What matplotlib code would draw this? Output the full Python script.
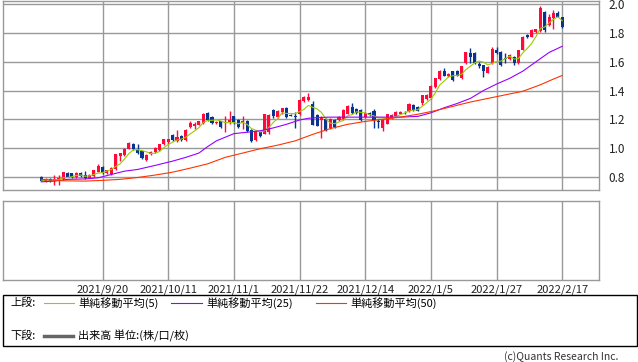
import matplotlib
matplotlib.use("Agg")
import matplotlib.pyplot as plt
from matplotlib.patches import Rectangle
from matplotlib.lines import Line2D
import numpy as np
import pandas as pd

plt.rcParams['font.family'] = ['Noto Sans CJK JP', 'DejaVu Sans']

# ---- data (daily OHLC, 120 bars) ----
opens = [.800,.765,.788,.775,.770,.785,.828,.823,.795,.825,.809,.793,.805,.835,.869,.823,.821,.851,.943,.950,
         .993,1.030,.985,.979,.917,.956,.970,.986,1.026,1.040,1.091,1.051,1.084,1.056,1.145,1.156,1.163,1.172,1.245,1.214,
         1.172,1.186,1.172,1.180,1.221,1.193,1.175,1.191,1.128,1.056,1.110,1.100,1.110,1.262,1.218,1.248,1.281,1.232,1.222,1.234,
         1.327,1.336,1.309,1.228,1.195,1.200,1.140,1.193,1.193,1.202,1.240,1.286,1.272,1.267,1.216,1.244,1.256,1.190,1.140,1.170,
         1.210,1.226,1.240,1.254,1.256,1.302,1.283,1.313,1.341,1.348,1.424,1.482,1.533,1.503,1.533,1.533,1.487,1.591,1.660,1.660,
         1.584,1.578,1.524,1.589,1.683,1.670,1.625,1.616,1.631,1.589,1.682,1.787,1.775,1.810,1.817,1.949,1.856,1.902,1.937,1.909]
highs = [.803,.790,.792,.810,.810,.835,.832,.826,.830,.830,.840,.820,.848,.890,.875,.850,.865,.958,.965,.998,
         1.040,1.035,1.030,.980,.955,.980,1.010,1.030,1.065,1.065,1.100,1.128,1.090,1.130,1.190,1.180,1.190,1.245,1.250,1.220,
         1.190,1.190,1.220,1.255,1.225,1.200,1.220,1.195,1.130,1.125,1.115,1.238,1.236,1.270,1.262,1.280,1.285,1.240,1.250,1.340,
         1.360,1.385,1.330,1.240,1.220,1.210,1.210,1.200,1.220,1.270,1.300,1.310,1.280,1.270,1.250,1.250,1.270,1.200,1.200,1.240,
         1.240,1.255,1.260,1.255,1.310,1.305,1.290,1.370,1.375,1.440,1.490,1.540,1.560,1.525,1.535,1.540,1.570,1.670,1.695,1.665,
         1.600,1.580,1.570,1.700,1.705,1.675,1.660,1.655,1.640,1.685,1.780,1.795,1.825,1.830,1.990,1.955,1.930,1.960,1.956,1.915]
lows = [.768,.762,.765,.745,.745,.780,.795,.790,.790,.800,.785,.790,.800,.830,.820,.820,.815,.850,.910,.945,
        .990,.985,.955,.925,.910,.950,.965,.980,1.020,1.030,1.050,1.045,1.050,1.050,1.140,1.130,1.160,1.170,1.190,1.170,
        1.165,1.140,1.115,1.170,1.170,1.140,1.130,1.110,1.040,1.050,1.075,1.095,1.100,1.210,1.210,1.240,1.210,1.220,1.137,1.230,
        1.320,1.330,1.160,1.150,1.070,1.120,1.130,1.140,1.185,1.195,1.235,1.240,1.240,1.190,1.210,1.225,1.140,1.140,1.117,1.165,
        1.205,1.220,1.235,1.240,1.250,1.260,1.255,1.300,1.335,1.340,1.420,1.475,1.500,1.495,1.465,1.500,1.480,1.585,1.590,1.585,
        1.560,1.495,1.520,1.585,1.655,1.570,1.590,1.610,1.575,1.585,1.680,1.765,1.770,1.800,1.810,1.810,1.850,1.830,1.910,1.835]
closes = [.770,.788,.770,.785,.790,.832,.800,.795,.828,.805,.790,.814,.844,.874,.823,.846,.862,.955,.962,.994,
          1.033,.990,.965,.928,.952,.975,.998,1.026,1.061,1.061,1.058,1.074,1.056,1.126,1.175,1.165,1.186,1.239,1.198,1.175,
          1.183,1.147,1.182,1.193,1.179,1.145,1.190,1.117,1.047,1.121,1.082,1.235,1.232,1.220,1.258,1.276,1.218,1.225,1.215,1.334,
          1.353,1.353,1.163,1.156,1.215,1.128,1.202,1.147,1.216,1.267,1.290,1.244,1.244,1.198,1.244,1.232,1.198,1.180,1.193,1.237,
          1.232,1.249,1.249,1.250,1.306,1.267,1.260,1.366,1.371,1.433,1.487,1.533,1.503,1.516,1.475,1.503,1.568,1.665,1.632,1.591,
          1.568,1.533,1.566,1.687,1.660,1.578,1.620,1.647,1.589,1.682,1.775,1.771,1.821,1.826,1.972,1.821,1.914,1.942,1.914,1.840]

# moving averages (bar index, value)
ma25_idx = [0,3,6,10,13,16,19,22,26,30,33,36,38,40,42,44,47,50,53,56,59,61,63,66,70,74,78,82,86,89,92,95,98,101,104,107,110,113,116,119]
ma25_val = [.765,.770,.782,.785,.793,.816,.839,.851,.879,.909,.935,.965,1.01,1.05,1.075,1.10,1.11,1.12,1.14,1.165,1.195,1.207,1.212,1.215,
            1.215,1.215,1.215,1.215,1.22,1.245,1.28,1.31,1.345,1.40,1.445,1.485,1.535,1.60,1.665,1.708]
ma50_idx = [0,5,10,14,18,22,26,30,34,38,42,46,50,54,58,62,66,70,74,78,82,86,90,94,98,102,106,110,114,117,119]
ma50_val = [.782,.772,.770,.775,.782,.795,.812,.832,.860,.890,.935,.965,.995,1.02,1.05,1.095,1.135,1.165,1.185,1.20,1.215,1.235,1.26,
            1.29,1.32,1.345,1.37,1.395,1.44,1.48,1.505]

tick_idx = [14, 29, 44, 59, 74, 89, 104, 119]
tick_labels = ["2021/9/20", "2021/10/11", "2021/11/1", "2021/11/22", "2021/12/14", "2022/1/5", "2022/1/27", "2022/2/17"]
y_ticks = [0.8, 1.0, 1.2, 1.4, 1.6, 1.8, 2.0]

UP = "#ff0a3a"
DOWN = "#08348f"
C5 = "#99cc00"
C25 = "#9900ff"
C50 = "#ff3300"
GRID = "#999999"

W, H = 638, 362
fig = plt.figure(figsize=(W / 100, H / 100), dpi=100)

def fx(px):
    return px / W

def fy(py):
    return 1 - py / H

ax1 = fig.add_axes([fx(3), fy(190), fx(599) - fx(3), fy(1) - fy(190)])
ax2 = fig.add_axes([fx(3), fy(280), fx(599) - fx(3), fy(201) - fy(280)])

o = np.array(opens); h = np.array(highs); l = np.array(lows); c = np.array(closes)
x = np.arange(len(c))
cols = [UP if cc >= oo else DOWN for oo, cc in zip(o, c)]

ax1.vlines(x, l, h, colors=cols, linewidth=1, zorder=3)
body_bottom = np.minimum(o, c)
body_h = np.maximum(np.abs(c - o), 0.004)
ax1.bar(x, body_h, bottom=body_bottom, width=0.7, color=cols, linewidth=0, zorder=3)

ma5 = pd.Series(c).rolling(5, min_periods=1).mean()
ax1.plot(x, ma5, color=C5, lw=0.8, zorder=4)
ax1.plot(ma25_idx, ma25_val, color=C25, lw=0.8, zorder=4)
ax1.plot(ma50_idx, ma50_val, color=C50, lw=0.8, zorder=4)

for ax in (ax1, ax2):
    ax.set_xlim(-8.75, 127.4)
    ax.set_xticks(tick_idx)
    ax.grid(True, axis='x', color=GRID, lw=1)
    for s in ax.spines.values():
        s.set_color(GRID)
        s.set_linewidth(1)
    ax.set_axisbelow(True)
    ax.tick_params(length=0)

ax1.set_ylim(0.708, 2.023)
ax1.set_yticks(y_ticks)
ax1.set_yticklabels([f"{v:.1f}" for v in y_ticks])
ax1.grid(True, axis='y', color=GRID, lw=1)
ax1.yaxis.tick_right()
ax1.tick_params(axis='y', labelsize=8.5, pad=7, colors='#222222')
ax1.set_xticklabels([])

ax2.set_yticks([])
ax2.set_ylim(0, 1)
ax2.set_xticklabels(tick_labels, fontsize=8)
ax2.tick_params(axis='x', pad=3, colors='#222222')

# legend box
fig.add_artist(Rectangle((fx(3), fy(346)), fx(637) - fx(3), fy(295) - fy(346),
                         transform=fig.transFigure, fill=False, edgecolor='black', lw=1))
fs = 8
fig.text(fx(10), fy(303), "上段:", fontsize=fs, va='center', ha='left')
for x0, x1, col, lab in [(44, 74, C5, "単純移動平均(5)"), (171, 202, C25, "単純移動平均(25)"), (316, 346, C50, "単純移動平均(50)")]:
    fig.add_artist(Line2D([fx(x0), fx(x1)], [fy(303), fy(303)], transform=fig.transFigure, color=col, lw=0.8))
    fig.text(fx(x1 + 4), fy(303), lab, fontsize=fs, va='center', ha='left')
fig.text(fx(10), fy(336), "下段:", fontsize=fs, va='center', ha='left')
fig.add_artist(Line2D([fx(44), fx(73)], [fy(336), fy(336)], transform=fig.transFigure, color='#666666', lw=2.5))
fig.text(fx(78), fy(336), "出来高 単位:(株/口/枚)", fontsize=fs, va='center', ha='left')
fig.text(fx(618), fy(357), "(c)Quants Research Inc.", fontsize=7.5, va='center', ha='right', color='#333333')

fig.savefig("out.png", dpi=100)
